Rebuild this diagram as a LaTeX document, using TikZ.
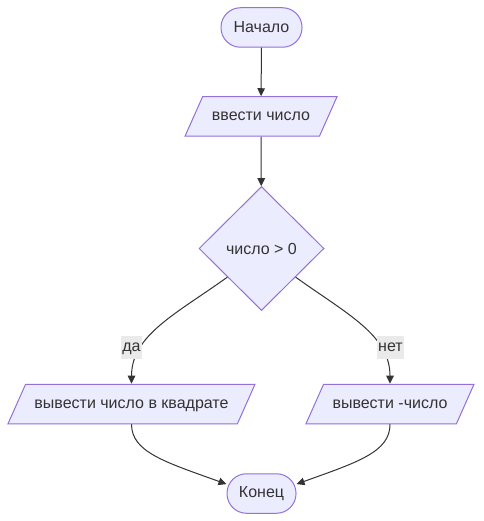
\documentclass[tikz,border=0pt]{standalone}
\usepackage{fontspec}
\setmainfont{Liberation Sans}
\usetikzlibrary{shapes.geometric,arrows.meta}
\definecolor{nodefill}{HTML}{ECECFF}
\definecolor{nodeline}{HTML}{9370DB}
\definecolor{edgecol}{HTML}{333333}
\definecolor{lblfill}{HTML}{EAEAEA}
\begin{document}
\begin{tikzpicture}[x=1pt,y=-1pt,
  base/.style={draw=nodeline, fill=nodefill, line width=1pt, text=edgecol, font=\fontsize{16}{19}\selectfont},
  term/.style={base, rectangle, rounded corners=19.5pt, minimum height=39.5pt, inner sep=0pt},
  io/.style={base, trapezium, trapezium left angle=66, trapezium right angle=114, trapezium stretches body,
    text height=11.5pt, text depth=3.5pt, inner xsep=0pt, inner ysep=12.25pt},
  dec/.style={base, diamond, minimum width=125pt, minimum height=124pt, inner sep=0pt},
  edge/.style={draw=edgecol, line width=1pt, -{Triangle[length=8pt,width=7.5pt]}},
  lbl/.style={fill=lblfill, text=edgecol, font=\fontsize{16}{19}\selectfont, text height=11.5pt, text depth=3.5pt, inner xsep=1pt, inner ysep=4pt}
]
\useasboundingbox[fill=white] (0,0) rectangle (483,521);
\node[term, minimum width=81pt] (s) at (261.5,27.5) {Начало};
\node[io, minimum width=152pt] (in) at (261,116.5) {ввести число};
\node[dec] (d) at (261.5,248.5) {число > 0};
\node[io, minimum width=247pt] (l) at (131.5,404) {вывести число в квадрате};
\node[io, minimum width=168pt] (r) at (390,404) {вывести -число};
\node[term, minimum width=69pt] (k) at (261.5,493.5) {Конец};
\draw[edge] (s) -- (in);
\draw[edge] (in) -- (d);
\draw[edge] (d.220) .. controls (176,314) and (131.5,335) .. (l.north);
\draw[edge] (d.-40) .. controls (347,314) and (390,335) .. (r.north);
\draw[edge] (l.south) .. controls (131.5,452) and (165,462) .. (k.165);
\draw[edge] (r.south) .. controls (390,452) and (358,462) .. (k.15);
\node[lbl] (la) at (131.5,347.5) {да};
\node[lbl] (lb) at (390.5,347.5) {нет};
\end{tikzpicture}
\end{document}
